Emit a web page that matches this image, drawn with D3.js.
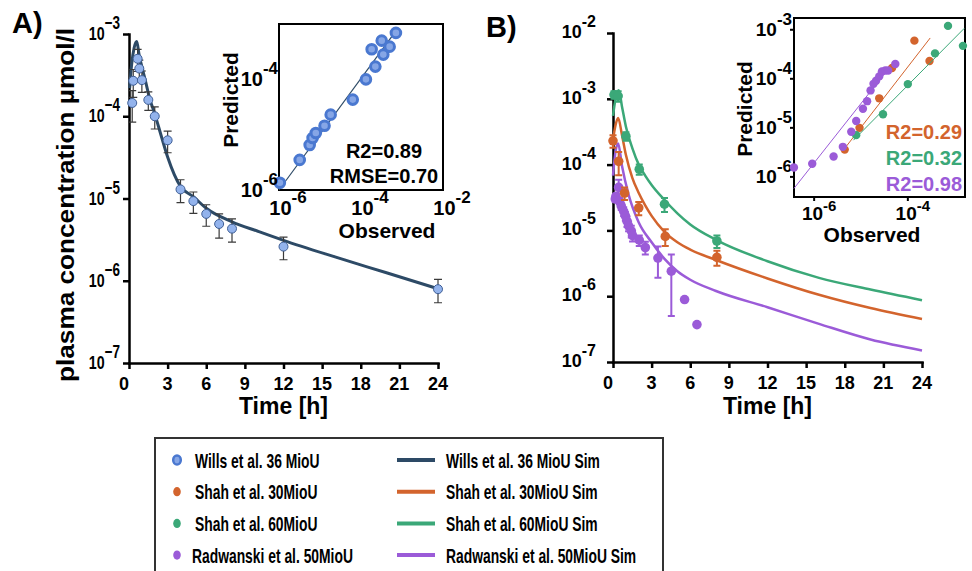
<!DOCTYPE html>
<html>
<head>
<meta charset="utf-8">
<script src="https://cdn.jsdelivr.net/npm/d3@7"></script>
<style>
    body { margin: 0; background: #fff; }
    svg { display: block; font-family: "Liberation Sans", Arial, sans-serif; font-weight: bold; }
</style>
</head>
<body>
<svg id="chart" width="972" height="571"></svg>
<script>
// ---------------- data ----------------
const timeTicks = [0, 3, 6, 9, 12, 15, 18, 21, 24];
const yTicksA = [1e-7, 1e-6, 1e-5, 1e-4, 1e-3];
const yTicksB = [1e-7, 1e-6, 1e-5, 1e-4, 1e-3, 1e-2];

// A) Wills et al. 36 MioU, observed mean and sd (umol/l)
const willsTime = [0.25, 0.33, 0.67, 0.8, 1, 1.5, 2, 3, 4, 5, 6, 7, 8, 12, 24];
const willsConc = [1.45e-4, 2.7e-4, 5e-4, 3.8e-4, 2.75e-4, 1.58e-4, 1e-4, 5.1e-5, 1.29e-5, 9.3e-6, 6.5e-6, 4.9e-6, 4.3e-6, 2.6e-6, 7.9e-7];
const willsSd = [6e-5, 1e-4, 1.5e-4, 1e-4, 8e-5, 4e-5, 3e-5, 1.5e-5, 4e-6, 2.7e-6, 1.9e-6, 1.6e-6, 1.35e-6, 8e-7, 2.5e-7];

// A) simulation
const simTimeA = [0.05, 0.2, 0.4, 0.6, 0.8, 1.0, 1.3, 1.6, 2, 2.5, 3, 4, 5, 6, 8, 10, 12, 16, 20, 24];
const simConcA = [2.2e-4, 4.2e-4, 6.8e-4, 8.1e-4, 5.4e-4, 4e-4, 2.6e-4, 1.65e-4, 1.07e-4, 5.8e-5, 3.2e-5, 1.4e-5, 1.05e-5, 7.6e-6, 5.2e-6, 4e-6, 3.1e-6, 1.95e-6, 1.25e-6, 8e-7];

// A) inset, observed vs predicted
const willsObs = [1.05e-6, 3.2e-6, 5.6e-6, 6.6e-6, 7.9e-6, 1.29e-5, 1.82e-5, 6.3e-5, 1.32e-4, 2.24e-4, 1.82e-4, 3.5e-4, 3.2e-4, 5e-4, 7.1e-4];
const willsPred = [1.35e-6, 3.5e-6, 6.5e-6, 8.7e-6, 1.07e-5, 1.45e-5, 2.3e-5, 4.3e-5, 1e-4, 1.7e-4, 3.5e-4, 2.8e-4, 5e-4, 3.9e-4, 6.9e-4];
const willsFit = [[1e-6, 1e-6], [7.5e-4, 7.9e-4]];

// B) observed
const shah30Time = [0, 0.44, 0.9, 2.0, 4.06, 8.07];
const shah30Conc = [2.3e-4, 1.12e-4, 3.7e-5, 2.2e-5, 8.1e-6, 3.9e-6];
const shah30Sd = [5e-5, 4.3e-5, 8e-6, 5e-6, 2.3e-6, 1e-6];

const shah60Time = [0.08, 0.4, 1.0, 2.04, 4.0, 8.07];
const shah60Conc = [1.15e-3, 1.1e-3, 2.7e-4, 8.5e-5, 2.5e-5, 6.9e-6];
const shah60Sd = [1.5e-4, 2e-4, 4e-5, 1.5e-5, 6e-6, 1.5e-6];

const radTime = [0.18, 0.23, 0.44, 0.49, 0.64, 0.83, 0.96, 1.09, 1.21, 1.42, 1.52, 2.04, 2.51, 3.49, 4.53, 5.56, 6.52];
const radConc = [3.0e-5, 3.3e-5, 4.5e-5, 2.8e-5, 2.35e-5, 1.95e-5, 1.66e-5, 1.38e-5, 1.17e-5, 9.8e-6, 8.3e-6, 7.1e-6, 5.5e-6, 3.8e-6, 2.4e-6, 8.9e-7, 3.7e-7];
const radSd = [3e-6, 3e-6, 1.4e-5, 3e-6, 3e-6, 3e-6, 2.5e-6, 2.5e-6, 2e-6, 2e-6, 1.5e-6, 1.3e-6, 1.2e-6, 1.9e-6, 1.9e-6, 0, 0];

// B) simulations
const simTimeShah30 = [0, 0.2, 0.4, 0.7, 1, 1.5, 2, 2.5, 3, 4, 5, 6, 8, 12, 16, 20, 24];
const simShah30 = [2.4e-4, 4.0e-4, 5.1e-4, 2.8e-4, 1.41e-4, 6.3e-5, 3.7e-5, 2.4e-5, 1.66e-5, 9.5e-6, 6.6e-6, 5.1e-6, 3.55e-6, 1.86e-6, 1.05e-6, 6.6e-7, 4.5e-7];
const simTimeShah60 = [0, 0.2, 0.45, 0.7, 1, 1.5, 2, 2.5, 3, 4, 5, 6, 8, 12, 16, 20, 24];
const simShah60 = [5.5e-4, 1.0e-3, 1.35e-3, 7.6e-4, 3.8e-4, 1.78e-4, 1.0e-4, 6.8e-5, 4.9e-5, 2.9e-5, 1.82e-5, 1.23e-5, 7.2e-6, 3.4e-6, 1.9e-6, 1.26e-6, 8.7e-7];
const simTimeRad = [0, 0.2, 0.4, 0.7, 1.2, 2, 3, 4, 5, 6, 8, 12, 16, 20, 24];
const simRad = [6.8e-5, 1.6e-4, 2.1e-4, 9.5e-5, 3.55e-5, 1.32e-5, 6.6e-6, 3.7e-6, 2.4e-6, 1.78e-6, 1.2e-6, 6.8e-7, 3.8e-7, 2.2e-7, 1.5e-7];

// B) inset, observed vs predicted
const shah30Obs = [4.5e-6, 9.3e-6, 2.45e-5, 4.6e-5, 1.38e-4, 2.9e-4];
const shah30Pred = [3.6e-6, 1e-5, 4e-5, 1.66e-4, 6e-4, 2.3e-4];
const shah60Obs = [7.9e-6, 2.95e-5, 1e-4, 3.8e-4, 7.2e-4, 1.5e-3];
const shah60Pred = [7.1e-6, 1.9e-5, 7.8e-5, 3.3e-4, 1.2e-3, 4.7e-4];
const radObs = [3.7e-7, 9.1e-7, 2.6e-6, 4.1e-6, 6.2e-6, 7.9e-6, 1.1e-5, 1.35e-5, 1.6e-5, 1.85e-5, 2.1e-5, 2.45e-5, 2.8e-5, 3.3e-5, 3.8e-5, 5.4e-5];
const radPred = [1.55e-6, 1.86e-6, 2.6e-6, 4.1e-6, 8.3e-6, 1.38e-5, 2.45e-5, 3.5e-5, 5.8e-5, 7.9e-5, 9.1e-5, 1.12e-4, 1.41e-4, 1.48e-4, 1.48e-4, 2.0e-4];
const shah30Fit = [[3.9e-6, 3.2e-6], [3e-4, 6.8e-4]];
const shah60Fit = [[6.9e-6, 5.6e-6], [1.6e-3, 1.07e-3]];
const radFit = [[3.7e-7, 5.8e-7], [3.6e-5, 1.48e-4]];
const r2Labels = ["R2=0.29", "R2=0.32", "R2=0.98"];

const legendObs = ["Wills et al. 36 MioU", "Shah et al. 30MioU", "Shah et al. 60MioU", "Radwanski et al. 50MioU"];
const legendSim = ["Wills et al. 36 MioU Sim", "Shah et al. 30MioU Sim", "Shah et al. 60MioU Sim", "Radwanski et al. 50MioU Sim"];

// ---------------- colours ----------------
const cWills = "#2d4a66", cOrange = "#d3642d", cGreen = "#3ba878", cPurple = "#9b5bd8";
const cBlue = "#4a78d0";

const svg = d3.select("#chart");
const zip = (a, b) => a.map((d, i) => [d, b[i]]);

// "10" with a superscript exponent
function powLabel(g, x, y, v, o) {
    let e = Math.round(Math.log10(v));
    let t = g.append("text")
        .attr("transform", "translate(" + x + "," + y + ") scale(" + (o.sx || 1) + ",1)")
        .attr("text-anchor", o.anchor || "end")
        .style("font-size", o.size + "px");
    t.append("tspan").text("10");
    t.append("tspan").attr("dy", -o.raise).style("font-size", o.expSize + "px")
        .text((o.minus || "-") + Math.abs(e));
    return t;
}

function mainAxes(x, y, yTicks, yl) {
    let x0 = x.range()[0], y0 = y.range()[0];
    let gx = svg.append("g").attr("transform", "translate(0," + y0 + ")")
        .call(d3.axisBottom(x).tickValues(timeTicks).tickSize(6).tickSizeOuter(0).tickFormat(""));
    let gy = svg.append("g").attr("transform", "translate(" + x0 + ",0)")
        .call(d3.axisLeft(y).tickValues(yTicks).tickSize(6).tickSizeOuter(0).tickFormat(""));
    [gx, gy].forEach(g => {
        g.select(".domain").attr("stroke-width", 2.5).attr("stroke-linecap", "square");
        g.selectAll(".tick line").attr("stroke-width", 2.5);
    });
    timeTicks.forEach(t => {
        svg.append("text")
            .attr("x", x(t) + (t === 0 ? -5 : 0)).attr("y", y0 + 27)
            .attr("text-anchor", "middle").style("font-size", "18px").text(t);
    });
    yTicks.forEach(v => powLabel(svg, yl.x, y(v) + yl.dy, v, yl));
    svg.append("text")
        .attr("x", (x.range()[0] + x.range()[1]) / 2).attr("y", 414)
        .attr("text-anchor", "middle").style("font-size", "23px").text("Time [h]");
}

function errorBars(g, x, y, time, conc, sd, color, width, cap) {
    let rows = time.map((t, i) => ({t: t, c: conc[i], s: sd[i]})).filter(d => d.s > 0);
    let lo = d => y(Math.max(d.c - d.s, 1e-7)), hi = d => y(d.c + d.s);
    g.selectAll(null).data(rows).enter().append("path")
        .attr("d", d => "M" + x(d.t) + "," + lo(d) + "V" + hi(d)
            + "M" + (x(d.t) - cap) + "," + lo(d) + "h" + 2 * cap
            + "M" + (x(d.t) - cap) + "," + hi(d) + "h" + 2 * cap)
        .attr("stroke", color).attr("stroke-width", width).attr("fill", "none");
}

function simLine(g, x, y, time, conc, color, width) {
    g.append("path").datum(zip(time, conc))
        .attr("d", d3.line().x(d => x(d[0])).y(d => y(d[1])).curve(d3.curveMonotoneX))
        .attr("fill", "none").attr("stroke", color).attr("stroke-width", width);
}

// ================= Panel A =================
const xA = d3.scaleLinear().domain([0, 24]).range([129, 438]);
const yA = d3.scaleLog().domain([1e-7, 1e-3]).range([363, 34]);

svg.append("text").attr("x", 12).attr("y", 33).style("font-size", "29px").text("A)");
svg.append("text")
    .attr("transform", "translate(74,205) rotate(-90)")
    .attr("text-anchor", "middle").style("font-size", "23px")
    .attr("textLength", 354).attr("lengthAdjust", "spacingAndGlyphs")
    .text("plasma concentration \u00b5mol/l");

mainAxes(xA, yA, yTicksA, {x: 120, dy: 6, size: 19, expSize: 18, raise: 11, sx: 0.75, minus: "\u2212"});

let gA = svg.append("g");
simLine(gA, xA, yA, simTimeA, simConcA, cWills, 3);
errorBars(gA, xA, yA, willsTime, willsConc, willsSd, "#3a3a3a", 1.2, 4);
gA.selectAll(".wills").data(zip(willsTime, willsConc)).enter().append("circle")
    .attr("cx", d => xA(d[0])).attr("cy", d => yA(d[1])).attr("r", 4.5)
    .attr("fill", "#93b3ec").attr("stroke", "#3f5f96").attr("stroke-width", 1);

// inset A
const ixA = d3.scaleLog().domain([1e-6, 1e-2]).range([279, 443]);
const iyA = d3.scaleLog().domain([1e-6, 1e-3]).range([190, 24]);
let inA = svg.append("g");
inA.append("rect").attr("x", 279).attr("y", 24).attr("width", 164).attr("height", 166)
    .attr("fill", "none").attr("stroke", "#000").attr("stroke-width", 2);
inA.append("line")
    .attr("x1", ixA(willsFit[0][0])).attr("y1", iyA(willsFit[0][1]))
    .attr("x2", ixA(willsFit[1][0])).attr("y2", iyA(willsFit[1][1]))
    .attr("stroke", cWills).attr("stroke-width", 1.2);
inA.selectAll(".obs").data(zip(willsObs, willsPred)).enter().append("circle")
    .attr("cx", d => ixA(d[0])).attr("cy", d => iyA(d[1])).attr("r", 4.8)
    .attr("fill", "#86a6e6").attr("stroke", cBlue).attr("stroke-width", 3);
[1e-6, 1e-4].forEach(v => powLabel(inA, 278, iyA(v) + 7, v, {size: 20, expSize: 17, raise: 12}));
[1e-6, 1e-4, 1e-2].forEach(v => powLabel(inA, ixA(v) + 9, 215, v, {size: 20, expSize: 17, raise: 12, anchor: "middle"}));
inA.append("text").attr("transform", "translate(238,100) rotate(-90)")
    .attr("text-anchor", "middle").style("font-size", "21px").text("Predicted");
inA.append("text").attr("x", 387).attr("y", 238)
    .attr("text-anchor", "middle").style("font-size", "21px").text("Observed");
inA.append("text").attr("x", 384).attr("y", 158)
    .attr("text-anchor", "middle").style("font-size", "20px").text("R2=0.89");
inA.append("text").attr("x", 384).attr("y", 183)
    .attr("text-anchor", "middle").style("font-size", "20px").text("RMSE=0.70");

// ================= Panel B =================
const xB = d3.scaleLinear().domain([0, 24]).range([613, 922]);
const yB = d3.scaleLog().domain([1e-7, 1e-2]).range([362, 33]);

svg.append("text").attr("x", 486).attr("y", 37).style("font-size", "29px").text("B)");
mainAxes(xB, yB, yTicksB, {x: 596, dy: 5, size: 18, expSize: 16, raise: 11});

let gB = svg.append("g");
const seriesB = [
    {time: radTime, conc: radConc, sd: radSd, simT: simTimeRad, sim: simRad, color: cPurple},
    {time: shah30Time, conc: shah30Conc, sd: shah30Sd, simT: simTimeShah30, sim: simShah30, color: cOrange},
    {time: shah60Time, conc: shah60Conc, sd: shah60Sd, simT: simTimeShah60, sim: simShah60, color: cGreen}
];
seriesB.forEach(s => simLine(gB, xB, yB, s.simT, s.sim, s.color, 2.5));
seriesB.forEach(s => {
    errorBars(gB, xB, yB, s.time, s.conc, s.sd, s.color, 2, 3.5);
    gB.selectAll(null).data(zip(s.time, s.conc)).enter().append("circle")
        .attr("cx", d => xB(d[0])).attr("cy", d => yB(d[1])).attr("r", 4.8)
        .attr("fill", s.color);
});

// inset B
const ixB = d3.scaleLog().domain([Math.pow(10, -6.43), Math.pow(10, -2.78)]).range([794, 965]);
const iyB = d3.scaleLog().domain([Math.pow(10, -6.41), Math.pow(10, -2.76)]).range([197, 18]);
let inB = svg.append("g");
inB.append("rect").attr("x", 794).attr("y", 18).attr("width", 171).attr("height", 179)
    .attr("fill", "none").attr("stroke", "#000").attr("stroke-width", 2);
[1e-3, 1e-4, 1e-5, 1e-6].forEach(v => {
    inB.append("line").attr("x1", 790).attr("x2", 794).attr("y1", iyB(v)).attr("y2", iyB(v))
        .attr("stroke", "#000").attr("stroke-width", 2);
    powLabel(inB, 792, iyB(v) + 6, v, {size: 19, expSize: 17, raise: 11});
});
[1e-6, 1e-4].forEach(v => {
    inB.append("line").attr("x1", ixB(v)).attr("x2", ixB(v)).attr("y1", 197).attr("y2", 201)
        .attr("stroke", "#000").attr("stroke-width", 2);
    powLabel(inB, ixB(v) + 5, 220, v, {size: 19, expSize: 15, raise: 9, anchor: "middle"});
});
const insetB = [
    {obs: shah30Obs, pred: shah30Pred, fit: shah30Fit, color: cOrange},
    {obs: shah60Obs, pred: shah60Pred, fit: shah60Fit, color: cGreen},
    {obs: radObs, pred: radPred, fit: radFit, color: cPurple}
];
insetB.forEach((s, i) => {
    inB.append("line")
        .attr("x1", ixB(s.fit[0][0])).attr("y1", iyB(s.fit[0][1]))
        .attr("x2", ixB(s.fit[1][0])).attr("y2", iyB(s.fit[1][1]))
        .attr("stroke", s.color).attr("stroke-width", 1);
    inB.selectAll(null).data(zip(s.obs, s.pred)).enter().append("circle")
        .attr("cx", d => ixB(d[0])).attr("cy", d => iyB(d[1])).attr("r", 4.2)
        .attr("fill", s.color);
    inB.append("text").attr("x", 962).attr("y", 139 + i * 26)
        .attr("text-anchor", "end").attr("fill", s.color).style("font-size", "20px")
        .text(r2Labels[i]);
});
inB.append("text").attr("transform", "translate(752,109) rotate(-90)")
    .attr("text-anchor", "middle").style("font-size", "21px").text("Predicted");
inB.append("text").attr("x", 872).attr("y", 242)
    .attr("text-anchor", "middle").style("font-size", "21px").text("Observed");

// ================= Legend =================
const legendColors = [cBlue, cOrange, cGreen, cPurple];
const simColors = [cWills, cOrange, cGreen, cPurple];
let lg = svg.append("g");
lg.append("rect").attr("x", 155).attr("y", 438).attr("width", 508).attr("height", 160)
    .attr("fill", "none").attr("stroke", "#333").attr("stroke-width", 2);
legendObs.forEach((label, i) => {
    let cy = 460 + i * 31.7;
    let m = lg.append("ellipse").attr("cx", 177).attr("cy", cy).attr("rx", 3.8).attr("ry", 4.6)
        .attr("fill", legendColors[i]);
    if (i === 0) m.attr("fill", "#86a6e6").attr("stroke", cBlue).attr("stroke-width", 2.5);
    lg.append("text").attr("transform", "translate(" + (i === 3 ? 192 : 195) + "," + (cy + 7.5) + ") scale(0.66,1)")
        .style("font-size", "21px").text(label);
    lg.append("line").attr("x1", 397).attr("x2", 435).attr("y1", cy).attr("y2", cy)
        .attr("stroke", simColors[i]).attr("stroke-width", 4);
    lg.append("text").attr("transform", "translate(446," + (cy + 7.5) + ") scale(0.66,1)")
        .style("font-size", "21px").text(legendSim[i]);
});
</script>
</body>
</html>
